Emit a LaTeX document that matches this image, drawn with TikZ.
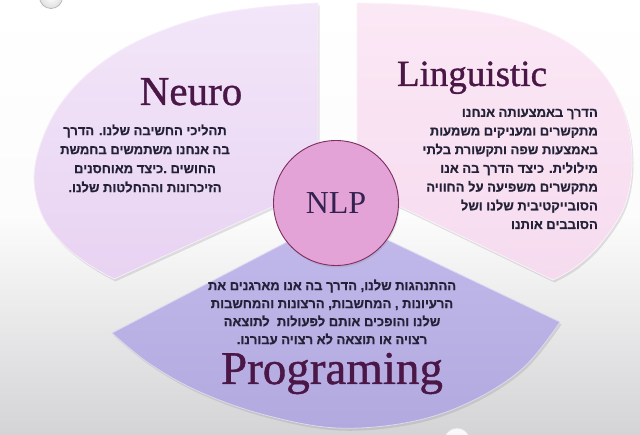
\documentclass[tikz,border=0pt]{standalone}
\usepackage{fontspec}
\setmainfont{Liberation Serif}
\newfontfamily\hebfont[Script=Hebrew, FakeBold=0.7]{Liberation Sans Bold}
\newfontfamily\titlefont[FakeBold=0.9]{Liberation Serif}
\TeXXeTstate=1
\usetikzlibrary{shadows}
\definecolor{bgbot}{HTML}{D4D4D6}
\definecolor{neuroA}{HTML}{F3E6F9}
\definecolor{neuroB}{HTML}{E8D3F2}
\definecolor{lingA}{HTML}{FBE8F5}
\definecolor{lingB}{HTML}{F6DBEF}
\definecolor{progA}{HTML}{C2BAEB}
\definecolor{progB}{HTML}{B2A9DF}
\definecolor{nlpfill}{HTML}{E4A3D6}
\definecolor{nlpline}{HTML}{7E2F60}
\definecolor{titlecol}{HTML}{4A1747}
\definecolor{nlpcol}{HTML}{33224F}
\definecolor{hebcol}{HTML}{242238}
\newcommand{\heb}[1]{\beginR #1\endR}
\tikzset{
  segshadow/.style={drop shadow={opacity=0.22, shadow xshift=1.5pt, shadow yshift=-2.5pt}},
  titlestyle/.style={font=\titlefont\fontsize{41}{44}\selectfont, text=titlecol, inner sep=0pt, anchor=base},
  hebtext/.style={font=\hebfont\fontsize{13}{19}\selectfont, text=hebcol, inner sep=0pt}
}
\begin{document}
\begin{tikzpicture}[x=1pt,y=-1pt]
\useasboundingbox (0,0) rectangle (640,435);
\shade[top color=white, bottom color=bgbot, middle color=white!92!bgbot] (0,0) rectangle (640,435);
% decorative small circles
\shade[draw=gray!55, line width=0.8pt, inner color=white, outer color=gray!25] (51,-3) circle (11.5);
\draw[gray!25, line width=0.8pt, fill=white!85!bgbot] (457,441) circle (13);
% Neuro segment
\path[segshadow, top color=neuroA, bottom color=neuroB, draw=white!60!neuroB, line width=0.8pt]
  (318,186) -- plot[smooth, tension=0.6] coordinates {(318,3) (255,8) (200,18) (140,40) (95,68) (62,102) (42,140) (34,178) (42,215) (62,243) (88,264) (114,279)} -- cycle;
% Linguistic segment
\path[segshadow, top color=lingA, bottom color=lingB, draw=white!60!lingB, line width=0.8pt]
  (357,186) -- plot[smooth, tension=0.6] coordinates {(357,3) (430,6) (500,16) (560,38) (600,70) (624,112) (632,160) (625,205) (602,242) (577,266) (553,280)} -- cycle;
% Programing segment
\path[segshadow, top color=progA, bottom color=progB, draw=white!55!progB, line width=0.8pt]
  (337,216) -- plot[smooth, tension=0.6] coordinates {(112,333) (150,364) (200,392) (265,415) (337,428) (410,422) (470,402) (523,368) (560,322)} -- cycle;
% centre circle
\node[circle, minimum size=125pt, inner sep=0pt, fill=nlpfill, draw=nlpline, line width=0.9pt,
      drop shadow={opacity=0.2, shadow xshift=1pt, shadow yshift=-2pt},
      font=\fontsize{32}{36}\selectfont, text=nlpcol] (nlp) at (336,203) {NLP};
% titles
\node[titlestyle] (neuro) at (191,105) {Neuro};
\node[titlestyle, font=\titlefont\fontsize{37}{40}\selectfont] (ling) at (472,86) {Linguistic};
\node[titlestyle, font=\titlefont\fontsize{47}{50}\selectfont] (prog) at (332,384) {Programing};
% texts
\node[hebtext, align=center] (neurotxt) at (145,158.5) {\heb{תהליכי החשיבה שלנו. הדרך}\\\heb{בה אנחנו משתמשים בחמשת}\\\heb{החושים .כיצד מאוחסנים}\\\heb{הזיכרונות וההחלטות שלנו.}};
\node[hebtext, align=right, anchor=east, font=\hebfont\fontsize{13}{18.7}\selectfont] (lingtxt) at (598,169) {\heb{הדרך באמצעותה אנחנו}\\\heb{מתקשרים ומעניקים משמעות}\\\heb{באמצעות שפה ותקשורת בלתי}\\\heb{מילולית. כיצד הדרך בה אנו}\\\heb{מתקשרים משפיעה על החוויה}\\\heb{הסובייקטיבית שלנו ושל}\\\heb{הסובבים אותנו}};
\node[hebtext, align=center, font=\hebfont\fontsize{13}{18}\selectfont] (progtxt) at (332,312) {\heb{ההתנהגות שלנו, הדרך בה אנו מארגנים את}\\\heb{הרעיונות , המחשבות, הרצונות והמחשבות}\\\heb{שלנו והופכים אותם לפעולות\ \ לתוצאה}\\\heb{רצויה או תוצאה לא רצויה עבורנו.}};
\end{tikzpicture}
\end{document}
